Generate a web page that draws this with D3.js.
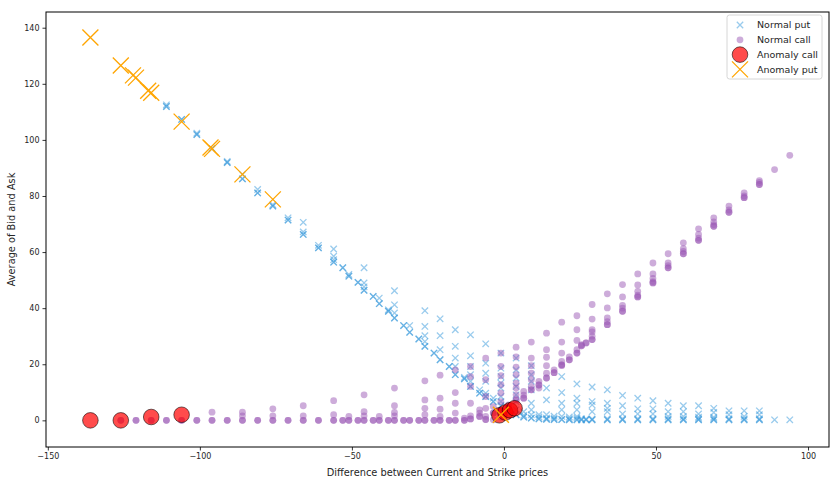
<!DOCTYPE html>
<html>
<head>
<meta charset="utf-8">
<script src="https://cdn.jsdelivr.net/npm/d3@7"></script>
<style>
  body { margin: 0; background: #fff; }
  text { font-family: "DejaVu Sans", sans-serif; fill: #262626; }
</style>
</head>
<body>
<div id="chart"></div>
<script>
// columns of [difference, [average of bid and ask ...]] (repeats = overlapping quotes)
var putCols = [
  [-111, [111.9, 111.9, 112.5]], [-106, [107.3, 107.3]], [-101, [101.9, 101.9, 102.4]], [-96, [96.9, 96.9]],
  [-91, [91.9, 91.9, 92.3]], [-86, [86.1, 86.1, 87.7]], [-81, [81.1, 81.1, 82.3]], [-76, [76.4, 76.4, 76.9]],
  [-71, [71.4, 71.4, 72.2]], [-66, [66.3, 66.3, 67.2, 70.6]], [-61, [61.5, 61.5, 62.4]],
  [-56, [56.4, 56.4, 57.3, 58.5, 61.1]], [-53, [54.4, 54.4]], [-51, [51.4, 51.4, 52]], [-48, [49.2, 49.2]],
  [-46, [46.4, 46.4, 47.6, 49, 54.4]], [-43, [44.2, 44.2]], [-41, [41.6, 41.6, 43.6]], [-38, [38.9, 38.9, 39.4]],
  [-36, [36.5, 36.5, 38.3, 41.2, 46.2]], [-33, [33.8, 33.8]], [-31, [31.4, 31.4, 33.8]], [-28, [29, 29]],
  [-26, [26.4, 26.4, 28.1, 30.2, 33.5, 39.1]], [-23, [24, 24]], [-21, [21.6, 21.6, 25.2, 30.2, 36.2]],
  [-18, [19.2, 19.2]], [-16, [16.3, 16.3, 19.2, 22.2, 26.4, 32.3]], [-13, [14.8, 14.8, 15.3]],
  [-11, [12.1, 12.1, 13.9, 16.3, 19.2, 23, 30.5]], [-8, [9.7, 9.7, 10.9]],
  [-6, [8.5, 8.5, 9.7, 13.9, 16.8, 20.4, 27.3]], [-3.5, [6.7, 6.7, 7.9]],
  [-1, [5.2, 5.2, 6.7, 8.5, 11.5, 13.3, 15.6, 18.6, 24]], [1.5, [3.4, 3.4, 4.6]],
  [4, [2, 2, 3.75, 6.7, 9.1, 12.1, 15.1, 18, 22.2]], [6.5, [1.2, 1.2, 1.8, 3.1]],
  [9, [0.8, 0.8, 2, 3.75, 6.1, 10.9, 13.9, 16.3, 19.5]], [11.5, [0.5, 0.5, 1.2, 2]],
  [14, [0.4, 0.4, 0.8, 2, 7.3, 11.5]], [16.5, [0.3, 0.3, 0.8, 1.5]],
  [19, [0.3, 0.3, 1.4, 3.75, 6.1, 9.9, 15.6]], [21.5, [0.2, 0.2, 0.6, 1.2]],
  [24, [0.2, 0.2, 0.8, 1.4, 3.75, 6.1, 7.9, 13]], [25.5, [0.2, 0.2, 0.6]], [27, [0.2, 0.2, 0.5]],
  [29, [0.2, 0.2, 0.5, 3.1, 5.5, 6.7, 11.9]], [34, [0.2, 0.2, 0.6, 3.1, 4.3, 6.1, 10.9]],
  [39, [0.2, 0.2, 0.6, 2.3, 5.2, 8.9]], [44, [0.2, 0.2, 0.6, 2.3, 4.1, 7.9]],
  [49, [0.2, 0.2, 0.6, 2.3, 4.1, 7]], [54, [0.2, 0.2, 0.6, 1.4, 3.1, 6.1]],
  [59, [0.2, 0.2, 0.6, 1.4, 3.1, 5.2]], [64, [0.2, 0.2, 0.6, 1.1, 2.3, 5.2]],
  [69, [0.2, 0.2, 0.6, 1.1, 2.8, 4.3]], [74, [0.2, 0.2, 0.6, 2, 3.4]], [79, [0.2, 0.2, 0.6, 1.4, 3.4]],
  [84, [0.2, 0.2, 0.6, 2, 3.4]], [89, [0.2]], [94, [0.2]]
];

var callCols = [
  [-126, [0, 0]], [-121, [0, 0]], [-116, [0, 0]], [-111, [0, 0]], [-106, [0, 0]],
  [-101, [0, 0]], [-96, [0, 0, 2.9]], [-91, [0, 0]], [-86, [0, 0, 1.6, 2.9]], [-81, [0, 0]],
  [-76, [0, 0, 1.6, 4.1]], [-71, [0, 0]], [-66, [0, 0, 1.6, 5.2]], [-61, [0, 0]],
  [-56, [0, 0, 2, 7]], [-53, [0, 0]], [-51, [0, 0, 1.4]], [-48, [0, 0]], [-46, [0, 0, 1.6, 3.1, 9.1]],
  [-43, [0, 0]], [-41, [0, 0, 1.4]], [-38, [0, 0]], [-36, [0, 0, 1.6, 2.8, 5.2, 11.5]],
  [-33, [0, 0]], [-31, [0, 0]], [-28, [0, 0]], [-26, [0, 0, 2, 4.3, 7.3, 14.1]], [-23, [0, 0]],
  [-21, [0, 0, 1.4, 4, 7.9, 16.1]], [-18, [0, 0]], [-16, [0, 0, 2.6, 6.1, 9.9, 18]],
  [-13, [0, 0, 0.8]], [-11, [0.5, 0.5, 1.6, 6.1, 12.1, 15.6, 19.2]], [-8, [1.4, 1.4, 2.6, 3.75]],
  [-6, [0.3, 0.3, 1.4, 4.3, 8.5, 14.5, 22.2]], [-3.5, [0.2, 2.6, 2.6, 4.9]],
  [-1, [1.2, 3.5, 3.5, 6.7, 9.7, 12.7, 15.9, 19.2, 24]], [1.5, [4.5, 4.5, 5.5]],
  [4, [7.3, 7.3, 9.1, 11.5, 13.3, 16.3, 19, 22.6, 26.1]], [6.5, [7.9, 7.9, 9, 10.3]],
  [9, [10.9, 10.9, 12.1, 14.5, 16.8, 19.5, 22.2, 27.9]], [11.5, [11.5, 12.6, 12.6, 13.9]],
  [14, [15.1, 15.1, 16.8, 19.5, 22.5, 25.2, 31.1]], [16.5, [17, 17, 18]],
  [19, [19.5, 19.8, 19.8, 21, 24, 27.9, 35]], [21.5, [21.6, 21.6, 22.6]],
  [24, [24, 24, 25.2, 28.5, 32.3, 37.3]], [25.5, [26.6, 26.6, 27]], [27, [27.6, 27.6]],
  [29, [28.8, 28.8, 30, 31.5, 32.3, 36.1, 41.3]], [34, [34.1, 34.1, 35.2, 36.5, 40.1, 45.1]],
  [39, [38.9, 38.9, 40, 41, 44, 48.4]], [44, [44, 44, 44.6, 46, 48.3, 52.2]],
  [49, [49, 49, 49.5, 50.6, 52.2, 56.1]], [54, [54.4, 54.4, 55.2, 56.1, 59.4]],
  [59, [59.4, 59.4, 60.2, 61.2, 63.3]], [64, [64.2, 64.2, 65, 66.3, 68.3]],
  [69, [69.2, 69.2, 69.8, 70.8, 72.2]], [74, [74.2, 74.2, 75, 76.4]], [79, [79.4, 79.4, 80, 81.1]],
  [84, [84.1, 84.1, 84.8, 85.5]], [89, [89.4]], [94, [94.5]]
];

var anomalyCall = [[-136, 0], [-126, 0], [-116, 1.2], [-106, 2], [-1.5, 1.8], [0.5, 2.8], [2, 3.6], [3.5, 4.3]];
var anomalyPut = [[-136, 136.5], [-126, 126.5], [-122, 123], [-121, 122.2], [-117, 117.5], [-116, 116.8],
  [-106, 106.5], [-96.5, 97.3], [-96, 96.8], [-86, 87.7], [-76, 78.8], [-1, 2]];

var xTicks = [-150, -100, -50, 0, 50, 100];
var yTicks = [0, 20, 40, 60, 80, 100, 120, 140];

function flat(cols) {
  var out = [];
  cols.forEach(function(c) { c[1].forEach(function(v) { out.push([c[0], v]); }); });
  return out;
}

var W = 839, H = 485;
var margin = {top: 12, right: 10, bottom: 38, left: 46};

var x = d3.scaleLinear().domain([-150.6, 106.9]).range([margin.left, W - margin.right]);
var y = d3.scaleLinear().domain([-9.5, 145.6]).range([H - margin.bottom, margin.top]);

var svg = d3.select("#chart").append("svg").attr("width", W).attr("height", H);

function cross(h) { return "M" + (-h) + "," + (-h) + "L" + h + "," + h + "M" + (-h) + "," + h + "L" + h + "," + (-h); }

var plot = svg.append("g");

plot.selectAll(".nput").data(flat(putCols)).enter().append("path")
  .attr("class", "nput")
  .attr("transform", function(d) { return "translate(" + x(d[0]) + "," + y(d[1]) + ")"; })
  .attr("d", cross(3.2))
  .attr("stroke", "#3498db").attr("stroke-opacity", 0.5).attr("stroke-width", 1.3).attr("fill", "none");

plot.selectAll(".ncall").data(flat(callCols)).enter().append("circle")
  .attr("class", "ncall")
  .attr("cx", function(d) { return x(d[0]); })
  .attr("cy", function(d) { return y(d[1]); })
  .attr("r", 3.4)
  .attr("fill", "#9b59b6").attr("fill-opacity", 0.5);

plot.selectAll(".acall").data(anomalyCall).enter().append("circle")
  .attr("class", "acall")
  .attr("cx", function(d) { return x(d[0]); })
  .attr("cy", function(d) { return y(d[1]); })
  .attr("r", 7.8)
  .attr("fill", "red").attr("fill-opacity", 0.7)
  .attr("stroke", "#000").attr("stroke-opacity", 0.7).attr("stroke-width", 0.8);

plot.selectAll(".aput").data(anomalyPut).enter().append("path")
  .attr("class", "aput")
  .attr("transform", function(d) { return "translate(" + x(d[0]) + "," + y(d[1]) + ")"; })
  .attr("d", cross(8))
  .attr("stroke", "orange").attr("stroke-width", 1.3).attr("fill", "none");

// axes
var xAxis = svg.append("g").attr("transform", "translate(0," + (H - margin.bottom) + ")")
  .call(d3.axisBottom(x).tickValues(xTicks).tickSize(3.5).tickPadding(3));
var yAxis = svg.append("g").attr("transform", "translate(" + margin.left + ",0)")
  .call(d3.axisLeft(y).tickValues(yTicks).tickSize(3.5).tickPadding(3));
[xAxis, yAxis].forEach(function(a) {
  a.select(".domain").remove();
  a.selectAll("text").style("font-size", "8px").style("font-family", "DejaVu Sans").attr("fill", "#262626");
  a.selectAll("line").attr("stroke", "#000").attr("stroke-width", 0.8);
});

svg.append("rect")
  .attr("x", margin.left).attr("y", margin.top)
  .attr("width", W - margin.left - margin.right).attr("height", H - margin.top - margin.bottom)
  .attr("fill", "none").attr("stroke", "#000").attr("stroke-width", 1);

svg.append("text")
  .attr("x", (margin.left + W - margin.right) / 2).attr("y", 476)
  .attr("text-anchor", "middle").style("font-size", "9.8px")
  .text("Difference between Current and Strike prices");

svg.append("text")
  .attr("transform", "translate(15," + ((margin.top + H - margin.bottom) / 2) + ") rotate(-90)")
  .attr("text-anchor", "middle").style("font-size", "9.8px")
  .text("Average of Bid and Ask");

// legend
var lg = svg.append("g").attr("transform", "translate(727,15)");
lg.append("rect").attr("width", 95).attr("height", 64).attr("rx", 2.5)
  .attr("fill", "#fff").attr("fill-opacity", 0.8).attr("stroke", "#ccc").attr("stroke-width", 0.8);
var items = ["Normal put", "Normal call", "Anomaly call", "Anomaly put"];
items.forEach(function(t, i) {
  var cy = 10 + i * 14.8;
  var g = lg.append("g").attr("transform", "translate(13," + cy + ")");
  if (i == 0) g.append("path").attr("d", cross(3.2)).attr("stroke", "#3498db").attr("stroke-opacity", 0.5).attr("stroke-width", 1.3);
  if (i == 1) g.append("circle").attr("r", 3.4).attr("fill", "#9b59b6").attr("fill-opacity", 0.5);
  if (i == 2) g.append("circle").attr("r", 7.8).attr("fill", "red").attr("fill-opacity", 0.7).attr("stroke", "#000").attr("stroke-opacity", 0.7).attr("stroke-width", 0.8);
  if (i == 3) g.append("path").attr("d", cross(8)).attr("stroke", "orange").attr("stroke-width", 1.3);
  lg.append("text").attr("x", 30).attr("y", cy).attr("dy", "0.35em").style("font-size", "9.5px").text(t);
});
</script>
</body>
</html>
